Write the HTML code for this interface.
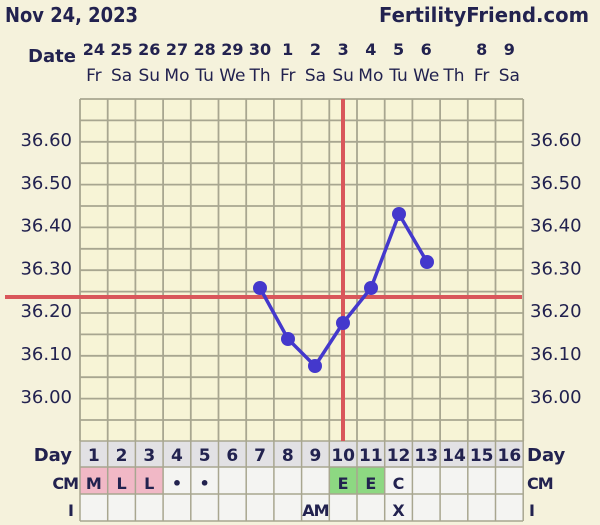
<!DOCTYPE html>
<html><head><style>
body{margin:0;background:#f5f2dc;}
svg{display:block;font-family:"DejaVu Sans","Liberation Sans",sans-serif;}
.b{font-weight:bold;fill:#22224f;}
</style></head><body>
<svg width="600" height="525" viewBox="0 0 600 525">
<rect width="600" height="525" fill="#f5f2dc"/>
<text x="5" y="22" class="b" font-size="20" textLength="133" lengthAdjust="spacingAndGlyphs">Nov 24, 2023</text>
<text x="589" y="22" class="b" font-size="20" text-anchor="end" textLength="210" lengthAdjust="spacingAndGlyphs">FertilityFriend.com</text>
<text x="28" y="62" class="b" font-size="18">Date</text>
<g id="dates" class="b" font-size="16" text-anchor="middle"></g>
<g id="dows" font-size="16" fill="#22224f" text-anchor="middle"></g>
<rect x="80" y="99" width="443" height="342" fill="#f7f4d6"/>
<g id="grid" stroke="#a8a690" stroke-width="1.8"></g>
<g id="temps" font-size="18" fill="#22224f"></g>
<rect x="80" y="441" width="443" height="26" fill="#e2e1e4"/>
<rect x="80" y="467" width="443" height="54" fill="#f4f4f2"/>
<rect x="80" y="467" width="83" height="27" fill="#f1b8c6"/>
<rect x="330" y="467" width="55" height="27" fill="#8dd882"/>
<g id="rowgrid" stroke="#a8a690" stroke-width="1.5"></g>
<text x="72" y="461" class="b" font-size="18" text-anchor="end">Day</text>
<text x="78" y="489" class="b" font-size="16" text-anchor="end" letter-spacing="-1">CM</text>
<text x="74" y="516" class="b" font-size="16" text-anchor="end">I</text>
<text x="527" y="461" class="b" font-size="18">Day</text>
<text x="527" y="489" class="b" font-size="16" letter-spacing="-1">CM</text>
<text x="529" y="516" class="b" font-size="16">I</text>
<g id="rowtext" class="b" font-size="16" text-anchor="middle"></g>
<line x1="5" y1="297" x2="522" y2="297" stroke="#d9575b" stroke-width="4"/>
<line x1="343" y1="99" x2="343" y2="441" stroke="#d9575b" stroke-width="4"/>
<polyline points="260,288 288,339 315,366 343,323 371,288 399,214 427,262" fill="none" stroke="#4438cc" stroke-width="3.5"/>
<g fill="#4438cc">
<circle cx="260" cy="288" r="7"/><circle cx="288" cy="339" r="7"/><circle cx="315" cy="366" r="7"/><circle cx="343" cy="323" r="7"/><circle cx="371" cy="288" r="7"/><circle cx="399" cy="214" r="7"/><circle cx="427" cy="262" r="7"/>
</g>
</svg>
<script>
const ns="http://www.w3.org/2000/svg";
function el(p,t,a,txt){const e=document.createElementNS(ns,t);for(const k in a)e.setAttribute(k,a[k]);if(txt!=null)e.textContent=txt;document.getElementById(p).appendChild(e);}
const W=27.7,X0=80;
const dd=["24","25","26","27","28","29","30","1","2","3","4","5","6","7","8","9"];
const dows=["Fr","Sa","Su","Mo","Tu","We","Th","Fr","Sa","Su","Mo","Tu","We","Th","Fr","Sa"];
for(let i=0;i<16;i++){const cx=X0+(i+0.5)*W;
 if(i!=13)el("dates","text",{x:cx,y:55},dd[i]);
 el("dows","text",{x:cx,y:81,"font-size":17},dows[i]);
 el("rowtext","text",{x:cx,y:461,"font-size":17},String(i+1));
}
for(let i=0;i<=16;i++){const x=X0+i*W;el("grid","line",{x1:x,y1:99,x2:x,y2:441});el("rowgrid","line",{x1:x,y1:441,x2:x,y2:521});}
for(let j=0;j<=16;j++){const y=99+j*21.4;el("grid","line",{x1:X0,y1:y,x2:523,y2:y});}
[441,467,494,521].forEach(y=>el("rowgrid","line",{x1:X0,y1:y,x2:523,y2:y}));
const t=["36.60","36.50","36.40","36.30","36.20","36.10","36.00"];
t.forEach((s,k)=>{const y=146+k*42.8;el("temps","text",{x:72,y:y,"text-anchor":"end"},s);el("temps","text",{x:530,y:y},s);});
const cm={1:"M",2:"L",3:"L",4:"•",5:"•",10:"E",11:"E",12:"C"};
for(const k in cm){el("rowtext","text",{x:X0+(k-0.5)*W,y:489},cm[k]);}
el("rowtext","text",{x:X0+8.5*W,y:516,"letter-spacing":"-1"},"AM");
el("rowtext","text",{x:X0+11.5*W,y:516},"X");
</script>
</body></html>
